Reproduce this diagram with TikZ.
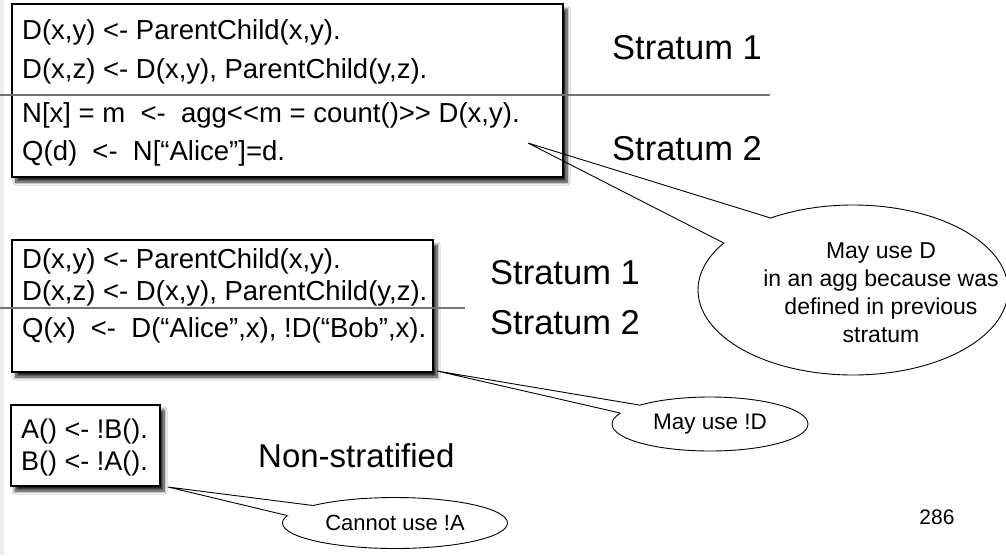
\documentclass[tikz,border=0pt]{standalone}
\usepackage{fontspec}
\setmainfont{Liberation Sans}[Ligatures=TeXOff]
\usetikzlibrary{shapes.geometric,calc,shadows.blur}

\tikzset{
  codebox/.style={draw=black, line width=1.2pt, fill=white, inner sep=0pt,
    blur shadow={shadow xshift=4pt, shadow yshift=-5pt, shadow blur radius=3pt,
      shadow blur steps=8, shadow opacity=85}},
  codeline/.style={anchor=base west, inner sep=0pt, font=\fontsize{27.5}{32}\selectfont},
  stratlabel/.style={anchor=base west, inner sep=0pt, font=\fontsize{34.5}{40}\selectfont},
  sepline/.style={draw=black!55, line width=1.5pt},
  bubble/.style={ellipse, draw=black, line width=0.9pt, fill=white, inner sep=0pt,
    font=\fontsize{22.5}{28}\selectfont},
  bubbletext/.style={align=center, inner sep=0pt, font=\fontsize{23}{28}\selectfont},
  wedgeline/.style={draw=black, line width=0.9pt},
}

\newcommand\bubblewedge[4]{%
  \fill[white] (#1.#3) -- ($(#1.#3)!0.35!(#2)$) -- ($(#1.#4)!0.35!(#2)$) -- (#1.#4)
     -- ($(#1.center)!0.85!($(#1.#3)!0.5!(#1.#4)$)$) -- cycle;
  \draw[wedgeline] (#1.#3) -- (#2) -- (#1.#4);
}

\begin{document}
\begin{tikzpicture}[x=1pt, y=-1pt]
\useasboundingbox (0,0) rectangle (1006,555);
\fill[white] (0,0) rectangle (1006,555);
\fill[black!7] (0,0) rectangle (4,555);

% ---------- box 1 ----------
\node[codebox, minimum width=551pt, minimum height=173pt] (box1) at (287.5,90.5) {};
\node[codeline] (b1l1) at (22,39) {D(x,y) <- ParentChild(x,y).};
\node[codeline] (b1l2) at (22,78) {D(x,z) <- D(x,y), ParentChild(y,z).};
\node[codeline] (b1l3) at (22,122) {N[x] = m\ \ <-\ \ agg<<m = count()>> D(x,y).};
\node[codeline] (b1l4) at (22,160) {Q(d)\ \ <-\ \ N[“Alice”]=d.};
\coordinate (s1a) at (0,95);
\coordinate (s1b) at (770,95);
\draw[sepline] (s1a) -- (s1b);
\node[stratlabel] (st1a) at (612,59) {Stratum 1};
\node[stratlabel] (st1b) at (612,160) {Stratum 2};

% ---------- box 2 ----------
\node[codebox, minimum width=421pt, minimum height=132pt] (box2) at (222.5,306) {};
\node[codeline] (b2l1) at (22,268) {D(x,y) <- ParentChild(x,y).};
\node[codeline] (b2l2) at (22,300) {D(x,z) <- D(x,y), ParentChild(y,z).};
\node[codeline] (b2l3) at (22,337) {Q(x)\ \ <-\ \ D(“Alice”,x), !D(“Bob”,x).};
\coordinate (s2a) at (0,308);
\coordinate (s2b) at (465,308);
\draw[sepline] (s2a) -- (s2b);
\node[stratlabel] (st2a) at (490,284) {Stratum 1};
\node[stratlabel] (st2b) at (490,334) {Stratum 2};

% ---------- box 3 ----------
\node[codebox, minimum width=149pt, minimum height=81pt] (box3) at (85.5,445.5) {};
\node[codeline, font=\fontsize{27}{32}\selectfont] (b3l1) at (21,438) {A() <- !B().};
\node[codeline, font=\fontsize{27}{32}\selectfont] (b3l2) at (21,470) {B() <- !A().};
\node[stratlabel, font=\fontsize{33}{40}\selectfont] (nonst) at (258,467) {Non-stratified};

% ---------- callouts ----------
\coordinate (tip1) at (528,143);
\coordinate (tip2) at (437,371);
\coordinate (tip3) at (168,487);

\node[bubble, minimum width=310pt, minimum height=170pt] (call1) at (853,290) {};
\node[bubbletext] (call1t) at (881,293) {May use D\\in an agg because was\\defined in previous\\stratum};
\bubblewedge{call1}{tip1}{139}{160}

\node[bubble, minimum width=196pt, minimum height=54pt] (call2) at (710,424) {May use !D};
\bubblewedge{call2}{tip2}{165}{173}

\node[bubble, minimum width=225pt, minimum height=51pt, font=\fontsize{22}{26}\selectfont] (call3) at (395,523) {Cannot use !A};
\bubblewedge{call3}{tip3}{168}{176}

\node[inner sep=0pt, font=\fontsize{21}{25}\selectfont] (pnum) at (937,517) {286};
\end{tikzpicture}
\end{document}
